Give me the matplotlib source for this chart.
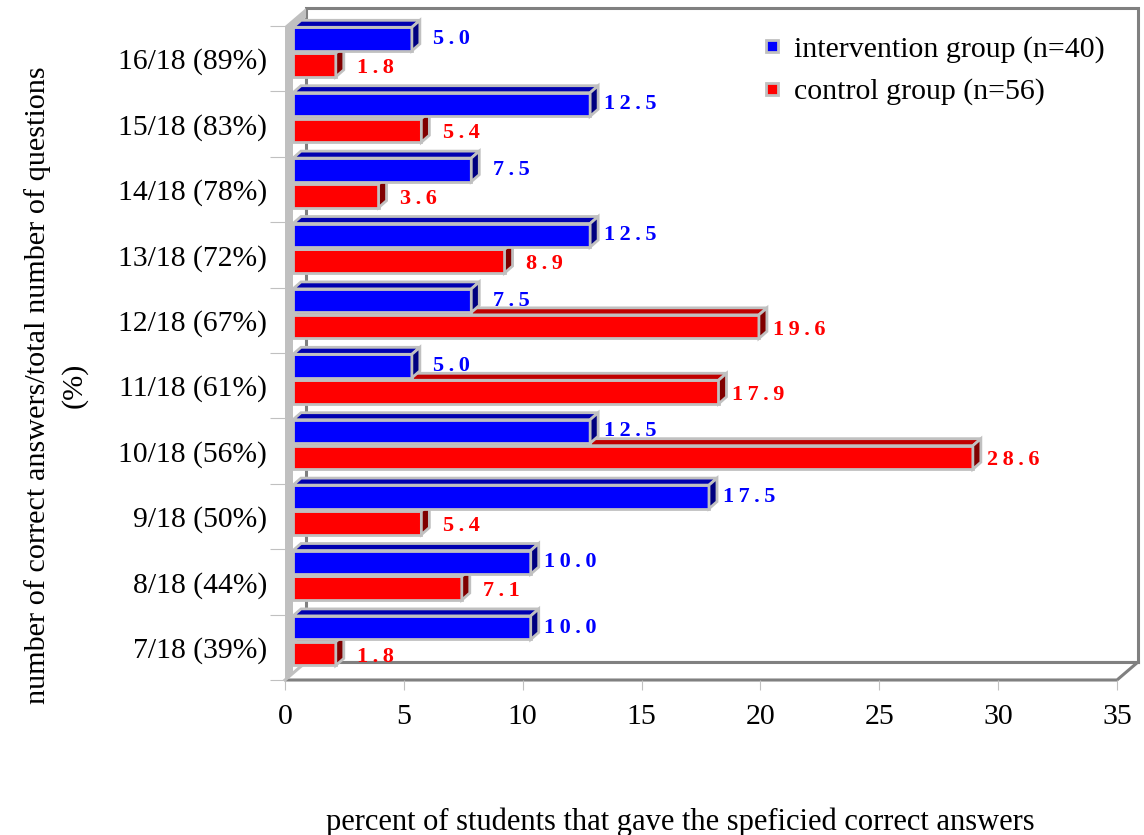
import matplotlib
matplotlib.use("Agg")
import matplotlib.pyplot as plt
from matplotlib.patches import Polygon
from matplotlib.lines import Line2D
from matplotlib.transforms import IdentityTransform

plt.rcParams['font.family'] = ['Liberation Serif', 'DejaVu Serif']

# data (bottom category first)
categories = ['7/18 (39%)', '8/18 (44%)', '9/18 (50%)', '10/18 (56%)', '11/18 (61%)',
              '12/18 (67%)', '13/18 (72%)', '14/18 (78%)', '15/18 (83%)', '16/18 (89%)']
intervention = [10.0, 10.0, 17.5, 12.5, 5.0, 7.5, 12.5, 7.5, 12.5, 5.0]
control = [1.8, 7.1, 5.4, 28.6, 17.9, 19.6, 8.9, 3.6, 5.4, 1.8]
labels = ['intervention group (n=40)', 'control group (n=56)']

W, H = 1144, 835
fig = plt.figure(figsize=(W / 100, H / 100), dpi=100)
ax = fig.add_axes([285 / W, (H - 680) / H, 832 / W, 654 / H])
ax.set_xlim(0, 35)
ax.set_ylim(-0.5, len(categories) - 0.5)
for s in ax.spines.values():
    s.set_visible(False)

GRAY = '#C0C0C0'
DARK = '#808080'
ident = IdentityTransform()

# --- 3D box walls (display pixels, relative to the axes box) ---
(L, B), (R, T) = ax.transAxes.transform([(0, 0), (1, 1)])
DX, DY = 21, 18
# back wall outline
ax.add_patch(Polygon([(L + DX, B + DY), (R + DX, B + DY), (R + DX, T + DY), (L + DX, T + DY)],
                     closed=True, fill=False, edgecolor=DARK, lw=2.2, transform=ident,
                     clip_on=False, zorder=0.5))
# left wall
ax.add_patch(Polygon([(L, B), (L, T), (L + DX, T + DY), (L + DX, T + 8), (L + 8, T), (L + 8, B + 8)],
                     closed=True, facecolor=GRAY, edgecolor='none', transform=ident,
                     clip_on=False, zorder=0.8))
# floor
ax.add_patch(Polygon([(L, B), (R, B), (R + DX, B + DY), (L + DX, B + DY)], closed=True,
                     facecolor='white', edgecolor='none', transform=ident, clip_on=False, zorder=0.9))
ax.plot([L, R, R + DX], [B, B, B + DY], color=DARK, lw=2.2, transform=ident, clip_on=False,
        zorder=1, solid_capstyle='butt')
ax.plot([L, L + DX], [B, B + DY], color=GRAY, lw=2.2, transform=ident, clip_on=False, zorder=1)
ax.plot([L + DX, R + DX], [B + DY, B + DY], color=DARK, lw=2.2, transform=ident, clip_on=False,
        zorder=1)

# --- bars ---
px0 = ax.transData.transform((0, 0))[0]
off = ax.transData.inverted().transform((px0 + 8, 0))[0]
h = 0.36
bd, bh = 8, 7


def bars3d(pos, vals, face, top, side, txtcol, z, dy_txt):
    rects = ax.barh(pos, vals, left=off, height=h, color=face, edgecolor=GRAY, lw=2, zorder=z)
    for r, v in zip(rects, vals):
        (x0, y0), (x1, y1) = ax.transData.transform([(r.get_x(), r.get_y()),
                                                     (r.get_x() + r.get_width(), r.get_y() + r.get_height())])
        ax.add_patch(Polygon([(x0, y1), (x1, y1), (x1 + bd, y1 + bh), (x0 + bd, y1 + bh)],
                             closed=True, facecolor=top, edgecolor=GRAY, lw=2,
                             transform=ident, clip_on=False, zorder=z + 0.1))
        ax.add_patch(Polygon([(x1, y0), (x1 + bd, y0 + bh), (x1 + bd, y1 + bh), (x1, y1)],
                             closed=True, facecolor=side, edgecolor=GRAY, lw=2,
                             transform=ident, clip_on=False, zorder=z + 0.1))
        ax.annotate('\u2009'.join(f'{v:.1f}'), xy=(r.get_x() + r.get_width(), r.get_y() + r.get_height() / 2),
                    xytext=(40, dy_txt), textcoords='offset pixels', ha='center', va='center',
                    fontsize=16, fontweight='bold', color=txtcol, zorder=6, annotation_clip=False)


ypos = list(range(len(categories)))
bars3d([y - 0.097 for y in ypos], control, '#FF0000', '#C00000', '#800000', '#FF0000', 2, -3)
bars3d([y + 0.30 for y in ypos], intervention, '#0000FF', '#0000B0', '#000080', '#0000FF', 3, 0)

# --- ticks ---
ax.set_xticks(range(0, 36, 5))
ax.tick_params(axis='x', length=7, width=0.8, color=GRAY, pad=10, labelsize=21.5)
ax.set_yticks([y - 0.5 for y in range(len(categories) + 1)])
ax.set_yticklabels([])
ax.tick_params(axis='y', which='major', length=11, width=0.8, color=GRAY)
ax.set_yticks(ypos, minor=True)
ax.set_yticklabels(categories, minor=True, fontsize=21.3)
ax.tick_params(axis='y', which='minor', length=0, pad=13)

# --- labels ---
fig.text(56 / W, 1 - 385 / H, 'number of correct answers/total number of questions\n(%)',
         rotation=90, ha='center', va='center', linespacing=1.45, fontsize=21.8, multialignment='center')
fig.text(680 / W, 1 - 822 / H, 'percent of students that gave the speficied correct answers',
         ha='center', va='center', fontsize=22)

handles = [Line2D([], [], marker='s', ls='', markersize=9, mfc='#0000FF', mec=GRAY, mew=2),
           Line2D([], [], marker='s', ls='', markersize=9, mfc='#FF0000', mec=GRAY, mew=2)]
fig.legend(handles, labels, loc='upper left', bbox_to_anchor=(748 / W, 1 - 24 / H), frameon=False,
           fontsize=21.5, handlelength=0.8, handletextpad=0.35, labelspacing=0.5, borderaxespad=0)

fig.savefig('out.png', dpi=100)
